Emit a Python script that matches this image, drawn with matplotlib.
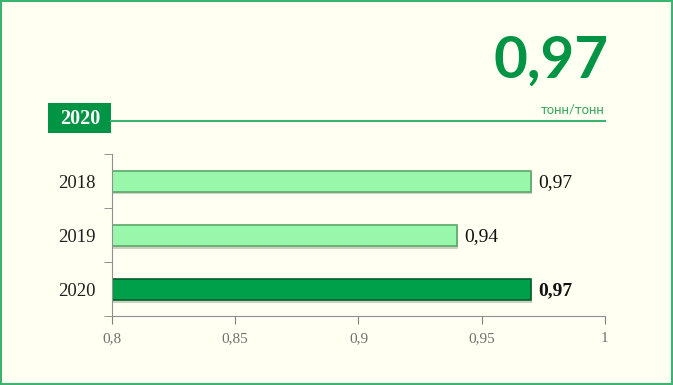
import matplotlib.pyplot as plt
import matplotlib.patheffects as pe
import numpy as np

years = ["2018", "2019", "2020"]
values = [0.97, 0.94, 0.97]
value_labels = ["0,97", "0,94", "0,97"]
xticks = [0.8, 0.85, 0.9, 0.95, 1.0]
xtick_labels = ["0,8", "0,85", "0,9", "0,95", "1"]
headline = "0,97"
unit = "тонн/тонн"
header_year = "2020"

bg = "#fffff2"
green = "#009444"
serif = ["Liberation Serif", "DejaVu Serif"]

fig = plt.figure(figsize=(6.73, 3.85), dpi=100, facecolor=bg)
fig.patches.append(plt.Rectangle((0.001, 0.002), 0.997, 0.995, transform=fig.transFigure,
                                 fill=False, edgecolor="#3cb371", linewidth=1.5))

ax = fig.add_axes([0.1664, 0.178, 0.7325, 0.422], facecolor=bg)

pos = np.arange(len(years))
face = ["#98f7aa", "#98f7aa", "#00a04a"]
edge = ["#5aa86a", "#5aa86a", "#00602c"]
bars = ax.barh(pos, values, height=0.39, left=0, color=face, edgecolor=edge, linewidth=1.2)
for b in bars:
    b.set_path_effects([pe.SimplePatchShadow(offset=(1, -2), shadow_rgbFace="#b0b0a0", alpha=0.6),
                        pe.Normal()])

ax.set_xlim(0.8, 1.0)
ax.set_ylim(len(years) - 0.5, -0.5)
ax.set_xticks(xticks)
ax.set_xticklabels(xtick_labels, family=serif, fontsize=11, color="#707070")
ax.set_yticks(pos)
ax.set_yticklabels(years, family=serif, fontsize=13.5, color="#202020")
ax.set_yticks(np.arange(len(years) + 1) - 0.5, minor=True)
ax.tick_params(axis="y", which="major", length=0, pad=12)
ax.tick_params(axis="y", which="minor", length=6, color="#808080")
ax.tick_params(axis="x", length=6, color="#808080", pad=5)

for s in ["top", "right"]:
    ax.spines[s].set_visible(False)
for s in ["left", "bottom"]:
    ax.spines[s].set_color("#909090")

for i, (v, lab) in enumerate(zip(values, value_labels)):
    ax.text(v + 0.003, i + 0.03, lab, va="center", ha="left", family=serif, fontsize=14,
            color="#101010", fontweight="bold" if i == len(years) - 1 else "normal")

# header
fig.text(0.905, 0.84, headline, ha="right", va="center", fontsize=42, fontweight="bold",
         color=green, family=["Lato", "DejaVu Sans"])
fig.text(0.899, 0.716, unit, ha="right", va="center", fontsize=9.5, color="#3aa860",
         family=["Lato", "DejaVu Sans"])
fig.add_artist(plt.Line2D([0.165, 0.899], [0.686, 0.686], transform=fig.transFigure,
                          color="#3cb371", linewidth=1.5))
fig.patches.append(plt.Rectangle((0.0715, 0.6545), 0.094, 0.078, transform=fig.transFigure,
                                 facecolor=green, edgecolor="none"))
fig.text(0.1185, 0.69, header_year, ha="center", va="center", fontsize=14.5, fontweight="bold",
         color="white", family=serif)

fig.savefig("out.png", dpi=100, facecolor=bg)
